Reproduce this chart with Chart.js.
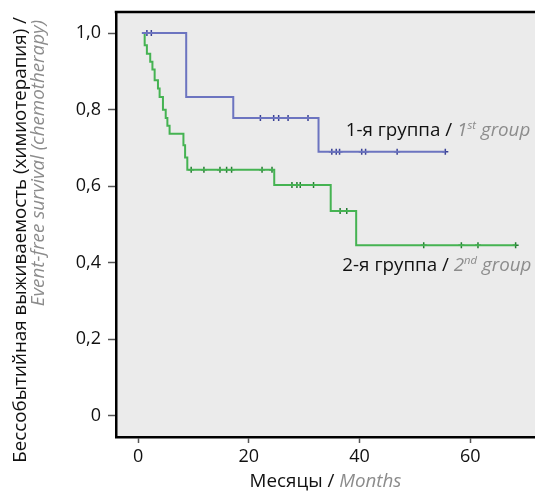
<!DOCTYPE html>
<html>
<head>
<meta charset="utf-8">
<script src="https://cdn.jsdelivr.net/npm/chart.js@4/dist/chart.umd.min.js"></script>
<style>
  html, body { margin: 0; padding: 0; background: #fff; }
  #wrap { width: 535px; height: 492px; }
</style>
</head>
<body>
<div id="wrap"><canvas id="km"></canvas></div>
<script>
const xTicks = [0, 20, 40, 60];
const yTicks = [0, 0.2, 0.4, 0.6, 0.8, 1.0];

// group 1 - step points (time, survival after step), censored times
const g1Times = [0.7, 8.7, 17.2, 32.6, 55.5];
const g1Surv = [1.0, 0.833, 0.778, 0.690, 0.690];
const g1Cens = [1.6, 2.4, 22.1, 24.5, 25.4, 27.1, 30.7, 35.0, 35.8, 36.4, 40.4, 41.1, 46.8, 55.5];

// group 2
const g2Times = [0.7, 1.2, 1.6, 2.2, 2.6, 3.0, 3.6, 3.9, 4.5, 5.0, 5.3, 5.7, 8.2, 8.5, 8.9, 24.6, 34.8, 39.4, 68.2];
const g2Surv = [1.0, 0.968, 0.946, 0.925, 0.905, 0.877, 0.855, 0.833, 0.800, 0.778, 0.758, 0.737, 0.707, 0.675, 0.643, 0.603, 0.535, 0.446, 0.446];
const g2Cens = [9.6, 11.9, 14.8, 16.0, 16.9, 22.4, 24.2, 27.8, 28.7, 29.3, 31.7, 36.5, 37.7, 51.6, 58.4, 61.4, 68.2];

const FONT = '"Open Sans", sans-serif';
const FS = 18;   // tick labels
const TS = 18.8; // titles and curve labels
const BLUE = '#6c74c0', BLUE_D = '#3a4196';
const GREEN = '#45b352', GREEN_D = '#237d31';
const GREY = '#8c8c8c';

// survival value of the step curve at time t
function survAt(times, surv, t) {
    let v = surv[0];
    times.forEach((tt, i) => { if (tt <= t) v = surv[i]; });
    return v;
}
const pts = (times, surv) => times.map((t, i) => ({ x: t, y: surv[i] }));
const cens = (c, times, surv) => c.map(t => ({ x: t, y: survAt(times, surv, t) }));

// draw a run of text pieces (mixed colour / italic / superscript)
function drawPieces(ctx, pieces, x, y, size, align) {
    const fontOf = p => (p.italic ? 'italic ' : '') + (p.sup ? size * 0.6 : size) + 'px ' + FONT;
    let total = 0;
    pieces.forEach(p => { ctx.font = fontOf(p); total += ctx.measureText(p.t).width; });
    let cx = align === 'right' ? x - total : (align === 'center' ? x - total / 2 : x);
    ctx.textAlign = 'left';
    ctx.textBaseline = 'alphabetic';
    pieces.forEach(p => {
        ctx.font = fontOf(p);
        ctx.fillStyle = p.c;
        ctx.fillText(p.t, cx, p.sup ? y - size * 0.38 : y);
        cx += ctx.measureText(p.t).width;
    });
}

const decor = {
    id: 'decor',
    beforeDraw(chart) {
        const { ctx, chartArea: a } = chart;
        ctx.save();
        ctx.fillStyle = '#ebebeb';
        ctx.fillRect(a.left, a.top, a.right - a.left, a.bottom - a.top);
        ctx.restore();
    },
    afterDraw(chart) {
        const { ctx, chartArea: a, scales } = chart;
        ctx.save();
        // top frame line
        ctx.strokeStyle = '#000';
        ctx.lineWidth = 2.5;
        ctx.beginPath();
        ctx.moveTo(a.left - 1.25, a.top);
        ctx.lineTo(a.right, a.top);
        ctx.stroke();

        // curve labels
        const xs = scales.x, ys = scales.y;
        drawPieces(ctx, [
            { t: '1-я группа / ', c: '#111' },
            { t: '1', c: GREY, italic: true },
            { t: 'st', c: GREY, italic: true, sup: true },
            { t: ' group', c: GREY, italic: true }
        ], xs.getPixelForValue(37.5), ys.getPixelForValue(0.731), TS, 'left');
        drawPieces(ctx, [
            { t: '2-я группа / ', c: '#111' },
            { t: '2', c: GREY, italic: true },
            { t: 'nd', c: GREY, italic: true, sup: true },
            { t: ' group', c: GREY, italic: true }
        ], xs.getPixelForValue(36.9), ys.getPixelForValue(0.378), TS, 'left');

        // x title
        drawPieces(ctx, [
            { t: 'Месяцы / ', c: '#111' },
            { t: 'Months', c: GREY, italic: true }
        ], (a.left + a.right) / 2, 487, TS, 'center');

        // y title (two lines, rotated, end-aligned at the top)
        ctx.save();
        ctx.translate(26, 17);
        ctx.rotate(-Math.PI / 2);
        drawPieces(ctx, [{ t: 'Бессобытийная выживаемость (химиотерапия) /', c: '#111' }], 0, 0, TS, 'right');
        ctx.restore();
        ctx.save();
        ctx.translate(44, 20);
        ctx.rotate(-Math.PI / 2);
        drawPieces(ctx, [{ t: 'Event-free survival (chemotherapy)', c: GREY, italic: true }], 0, 0, TS, 'right');
        ctx.restore();
        ctx.restore();
    }
};

new Chart(document.getElementById('km'), {
    type: 'line',
    data: {
        datasets: [
            { data: pts(g1Times, g1Surv), stepped: 'before', borderColor: BLUE, borderWidth: 2, pointRadius: 0, fill: false },
            { data: pts(g2Times, g2Surv), stepped: 'before', borderColor: GREEN, borderWidth: 2, pointRadius: 0, fill: false },
            { type: 'scatter', data: cens(g1Cens, g1Times, g1Surv), pointStyle: 'cross', pointRadius: 3, borderColor: BLUE_D, borderWidth: 1.5, showLine: false },
            { type: 'scatter', data: cens(g2Cens, g2Times, g2Surv), pointStyle: 'cross', pointRadius: 3, borderColor: GREEN_D, borderWidth: 1.5, showLine: false }
        ]
    },
    options: {
        responsive: true, maintainAspectRatio: false, animation: false,
        layout: { autoPadding: false, padding: { top: 12, left: 0, right: 0, bottom: 0 } },
        plugins: { legend: { display: false }, tooltip: { enabled: false } },
        scales: {
            x: {
                type: 'linear', min: -3.98, max: 71.7,
                afterBuildTicks: s => { s.ticks = xTicks.map(v => ({ value: v })); },
                afterFit: s => { s.height = 55; s.paddingLeft = 0; s.paddingRight = 0; },
                ticks: { color: '#111', font: { family: FONT, size: FS }, padding: 3, maxRotation: 0 },
                grid: { drawOnChartArea: false, drawTicks: true, tickLength: 6, tickColor: '#555', tickWidth: 1.5 },
                border: { display: true, color: '#000', width: 2.5 }
            },
            y: {
                type: 'linear', min: -0.055, max: 1.055,
                afterBuildTicks: s => { s.ticks = yTicks.map(v => ({ value: v })); },
                afterFit: s => { s.width = 116; s.paddingTop = 0; s.paddingBottom = 0; },
                ticks: {
                    color: '#111', font: { family: FONT, size: FS }, padding: 7,
                    callback: v => v === 0 ? '0' : v.toFixed(1).replace('.', ',')
                },
                grid: { drawOnChartArea: false, drawTicks: true, tickLength: 8, tickColor: '#555', tickWidth: 1.5 },
                border: { display: true, color: '#000', width: 2.5 }
            }
        }
    },
    plugins: [decor]
});
</script>
</body>
</html>
